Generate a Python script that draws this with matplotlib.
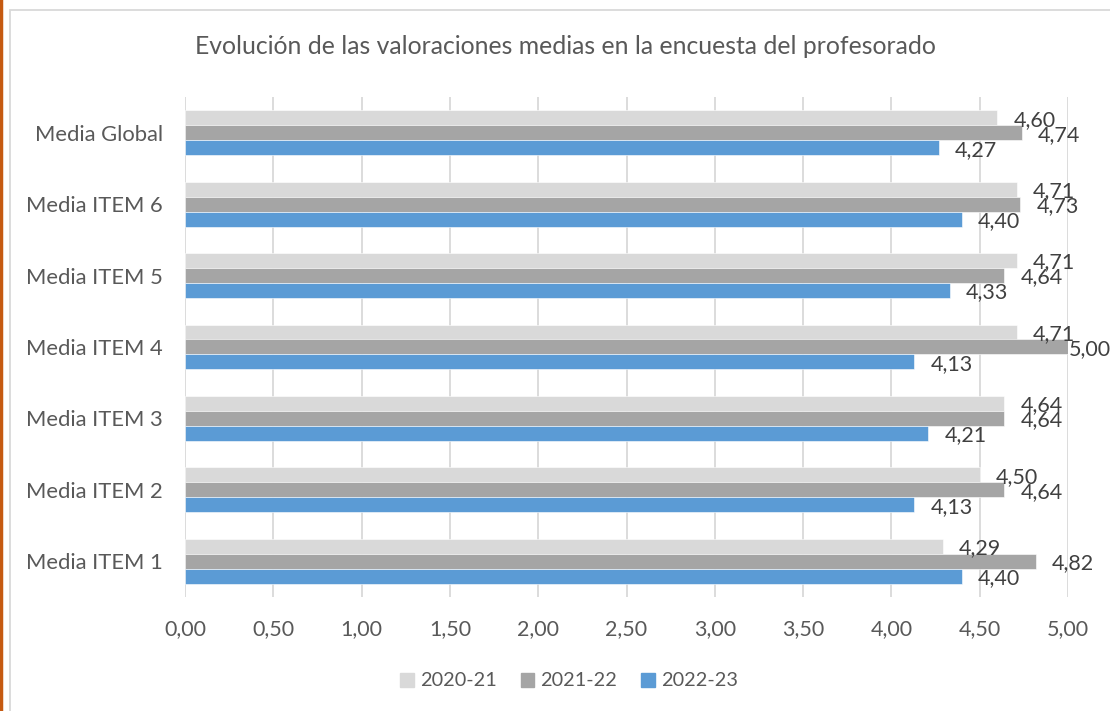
import matplotlib.pyplot as plt
import numpy as np
from matplotlib.patches import Rectangle
from matplotlib.lines import Line2D

plt.rcParams['font.family'] = ['Lato', 'DejaVu Sans']

categories = ["Media ITEM 1", "Media ITEM 2", "Media ITEM 3", "Media ITEM 4",
              "Media ITEM 5", "Media ITEM 6", "Media Global"]
series_names = ["2020-21", "2021-22", "2022-23"]
v2020 = [4.29, 4.50, 4.64, 4.71, 4.71, 4.71, 4.60]
v2021 = [4.82, 4.64, 4.64, 5.00, 4.64, 4.73, 4.74]
v2022 = [4.40, 4.13, 4.21, 4.13, 4.33, 4.40, 4.27]
xticks = [0, 0.5, 1, 1.5, 2, 2.5, 3, 3.5, 4, 4.5, 5]

colors = ["#D9D9D9", "#A5A5A5", "#5B9BD5"]
text_col = "#595959"

fig = plt.figure(figsize=(11.1, 7.11), dpi=100)
ax = fig.add_axes([185/1110, 1-597/711, (1068-185)/1110, 500/711])

y = np.arange(len(categories))
h = 0.21
offsets = [h, 0, -h]
for vals, off, c, name in zip([v2020, v2021, v2022], offsets, colors, series_names):
    ax.barh(y + off, vals, height=h, color=c, edgecolor="white",
            linewidth=0.4, label=name, zorder=2)
    for yy, v in zip(y + off, vals):
        # excel pulls the label in when the bar reaches the axis end
        dx = 1 if v >= 4.99 else 16
        ax.annotate(f"{v:.2f}".replace(".", ","), (v, yy),
                    xytext=(dx, -2), textcoords="offset pixels",
                    ha="left", va="center", fontsize=15.5, color="#404040")

ax.set_xlim(0, 5)
ax.set_ylim(-0.5, len(categories) - 0.5)
ax.set_xticks(xticks)
ax.set_xticklabels([f"{t:.2f}".replace(".", ",") for t in xticks])
ax.set_yticks(y)
ax.set_yticklabels(categories)
ax.tick_params(axis="both", length=0, labelsize=15.5, labelcolor=text_col)
ax.tick_params(axis="y", labelsize=15.8, pad=16)
ax.tick_params(axis="x", pad=16)
ax.xaxis.grid(True, color="#D9D9D9", linewidth=1.3, zorder=0)
ax.set_axisbelow(True)
for s in ax.spines.values():
    s.set_visible(False)

fig.text(565/1110, 1-47/711, "Evolución de las valoraciones medias en la encuesta del profesorado",
         ha="center", va="center", fontsize=17.8, color=text_col)

handles = [plt.Rectangle((0, 0), 1, 1, color=c) for c in colors]
fig.legend(handles, series_names, loc="center", bbox_to_anchor=(569/1110, 1-681/711),
           ncol=3, frameon=False, fontsize=14.3, labelcolor=text_col,
           handlelength=0.7, handleheight=0.7, handletextpad=0.3, columnspacing=1.2)

# chart frame and left border
fig.patches.append(Rectangle((10/1110, -0.05), 1.1, 1.05 - 10/711,
                             transform=fig.transFigure, fill=False,
                             edgecolor="#D9D9D9", linewidth=1.3))
fig.lines.append(Line2D([1/1110, 1/1110], [0, 1], transform=fig.transFigure,
                        color="#C55A11", linewidth=2.5))

fig.savefig("out.png", dpi=100)
